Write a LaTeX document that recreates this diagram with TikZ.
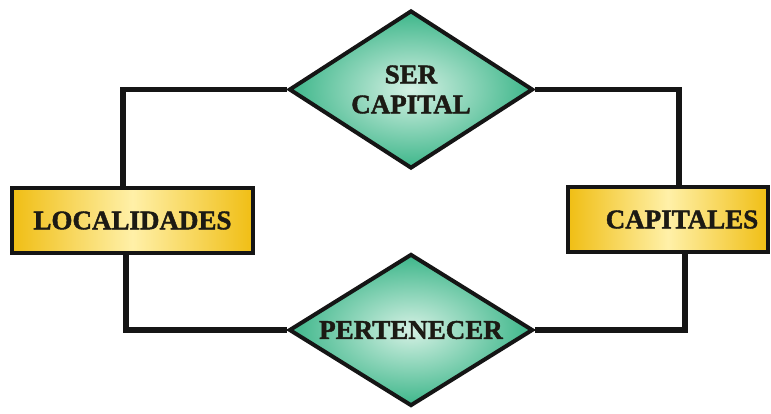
\documentclass[tikz,border=0pt]{standalone}
\usepackage{fontspec}
\setmainfont{Liberation Serif}[BoldFeatures={FakeBold=1.5}]
\usetikzlibrary{shapes.geometric}
\definecolor{inkline}{HTML}{151515}
\definecolor{inktext}{HTML}{1C1A14}
\definecolor{goldedge}{HTML}{F0BE14}
\definecolor{goldmid}{HTML}{FFF0A8}
\definecolor{greenedge}{HTML}{3DB68A}
\definecolor{greenmid}{HTML}{D5F1E4}
\tikzset{
  entity/.style={draw=inkline, line width=4pt, rectangle, inner sep=0pt,
    minimum height=65pt, left color=goldedge, right color=goldedge,
    middle color=goldmid, text=inktext,
    font=\fontsize{27}{30}\selectfont\bfseries},
  relation/.style={draw=inkline, line width=4pt, diamond, inner sep=0pt,
    shape aspect=1.56, minimum width=244pt, shading=radial,
    inner color=greenmid, outer color=greenedge, text=inktext, align=center,
    font=\fontsize{27}{30}\selectfont\bfseries},
  link/.style={draw=inkline, line width=5.5pt, line join=miter}
}
\begin{document}
\begin{tikzpicture}[x=1pt, y=-1pt]
  \useasboundingbox (0,0) rectangle (771,414);
  % guide columns for the vertical runs of the links
  \coordinate (colLtop) at (123,0);
  \coordinate (colLbot) at (126,0);
  \coordinate (colRtop) at (679,0);
  \coordinate (colRbot) at (685,0);
  % relationships
  \node[relation, minimum height=158pt] (ser) at (411,89.5) {SER\\CAPITAL};
  \node[relation, minimum height=152pt] (per) at (411,330) {PERTENECER};
  % links (drawn under the entities)
  \draw[link] (colLtop |- 0,200) |- (ser.west);
  \draw[link] (ser.east) -| (colRtop |- 0,200);
  \draw[link] (colLbot |- 0,240) |- (per.west);
  \draw[link] (per.east) -| (colRbot |- 0,240);
  % entities
  \node[entity, minimum width=241pt] (loc) at (132.5,220.5) {LOCALIDADES};
  \node[entity, minimum width=200pt] (cap) at (668,219.5) {\hspace*{28pt}CAPITALES};
\end{tikzpicture}
\end{document}
